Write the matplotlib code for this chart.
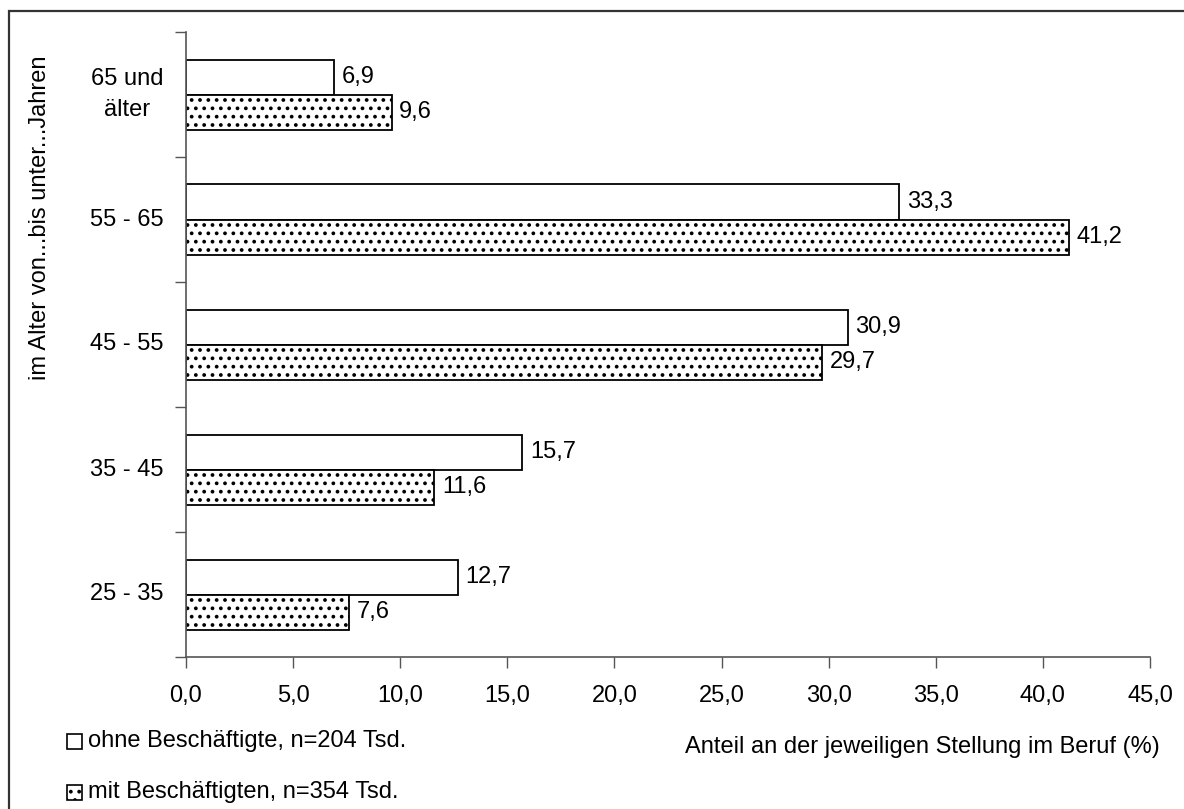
import matplotlib
matplotlib.use('Agg')
import matplotlib.pyplot as plt
from matplotlib.patches import Rectangle
from matplotlib.transforms import blended_transform_factory
import numpy as np

plt.rcParams['font.family'] = ['Liberation Sans', 'DejaVu Sans']
plt.rcParams['hatch.linewidth'] = 1.5

# Altersgruppen (unten nach oben) und Anteile in %
groups = ['25 - 35', '35 - 45', '45 - 55', '55 - 65', '65 und\nälter']
ohne = [12.7, 15.7, 30.9, 33.3, 6.9]
mit = [7.6, 11.6, 29.7, 41.2, 9.6]
label_ohne = 'ohne Beschäftigte, n=204 Tsd.'
label_mit = 'mit Beschäftigten, n=354 Tsd.'
x_ticks = [0, 5, 10, 15, 20, 25, 30, 35, 40, 45]

FS = 17
W, H = 1184, 809
fig = plt.figure(figsize=(W / 100, H / 100), dpi=100)
ax = fig.add_axes([186 / W, 1 - 657 / H, 964 / W, 625 / H])

y = np.arange(len(groups))
h = 0.28
b1 = ax.barh(y + h / 2, ohne, height=h, color='white', edgecolor='black', linewidth=1.3)
b2 = ax.barh(y - h / 2, mit, height=h, color='white', edgecolor='black', linewidth=1.3,
             hatch='..')

def fmt(v):
    return f'{v:.1f}'.replace('.', ',')

for bars, vals in ((b1, ohne), (b2, mit)):
    for bar, v in zip(bars, vals):
        ax.text(v + 0.35, bar.get_y() + bar.get_height() / 2, fmt(v),
                ha='left', va='center', fontsize=FS)

ax.set_xlim(0, 45)
ax.set_ylim(-0.5, len(groups) - 0.5)
ax.set_xticks(x_ticks)
ax.set_xticklabels([fmt(t) for t in x_ticks], fontsize=FS)
ax.set_yticks(np.arange(len(groups) + 1) - 0.5)
ax.set_yticklabels([])
ax.tick_params(axis='x', direction='out', length=8, width=1, pad=12, color='#555555')
ax.tick_params(axis='y', direction='out', length=8, width=1, color='#555555')
for s in ('top', 'right'):
    ax.spines[s].set_visible(False)
for s in ('left', 'bottom'):
    ax.spines[s].set_color('#555555')
    ax.spines[s].set_linewidth(1.2)

# Kategoriebeschriftungen mittig zwischen den Teilstrichen
tr = blended_transform_factory(fig.transFigure, ax.transData)
for yi, g in zip(y, groups):
    ax.text(127 / W, yi, g, transform=tr, ha='center', va='center',
            multialignment='center', fontsize=FS, linespacing=1.5)

fig.text(40 / W, 1 - 218 / H, 'im Alter von...bis unter...Jahren', rotation=90,
         ha='center', va='center', fontsize=FS)
fig.text(1160 / W, 1 - 747 / H, 'Anteil an der jeweiligen Stellung im Beruf (%)',
         ha='right', va='center', fontsize=FS)

# Legende unten links
for ypix, lab, hatch in ((741, label_ohne, None), (792, label_mit, '..')):
    fig.patches.append(Rectangle((67 / W, 1 - (ypix + 8) / H), 15 / W, 15 / H,
                                 transform=fig.transFigure, facecolor='white',
                                 edgecolor='black', linewidth=1.2, hatch=hatch))
    fig.text(88 / W, 1 - ypix / H, lab, ha='left', va='center', fontsize=FS)

# Rahmen um die Grafik
fig.patches.append(Rectangle((9 / W, -0.05), 1.1, 1 - 11 / H + 0.05,
                             transform=fig.transFigure, fill=False,
                             edgecolor='#333333', linewidth=1.6, clip_on=False))

fig.savefig('out.png', dpi=100)
